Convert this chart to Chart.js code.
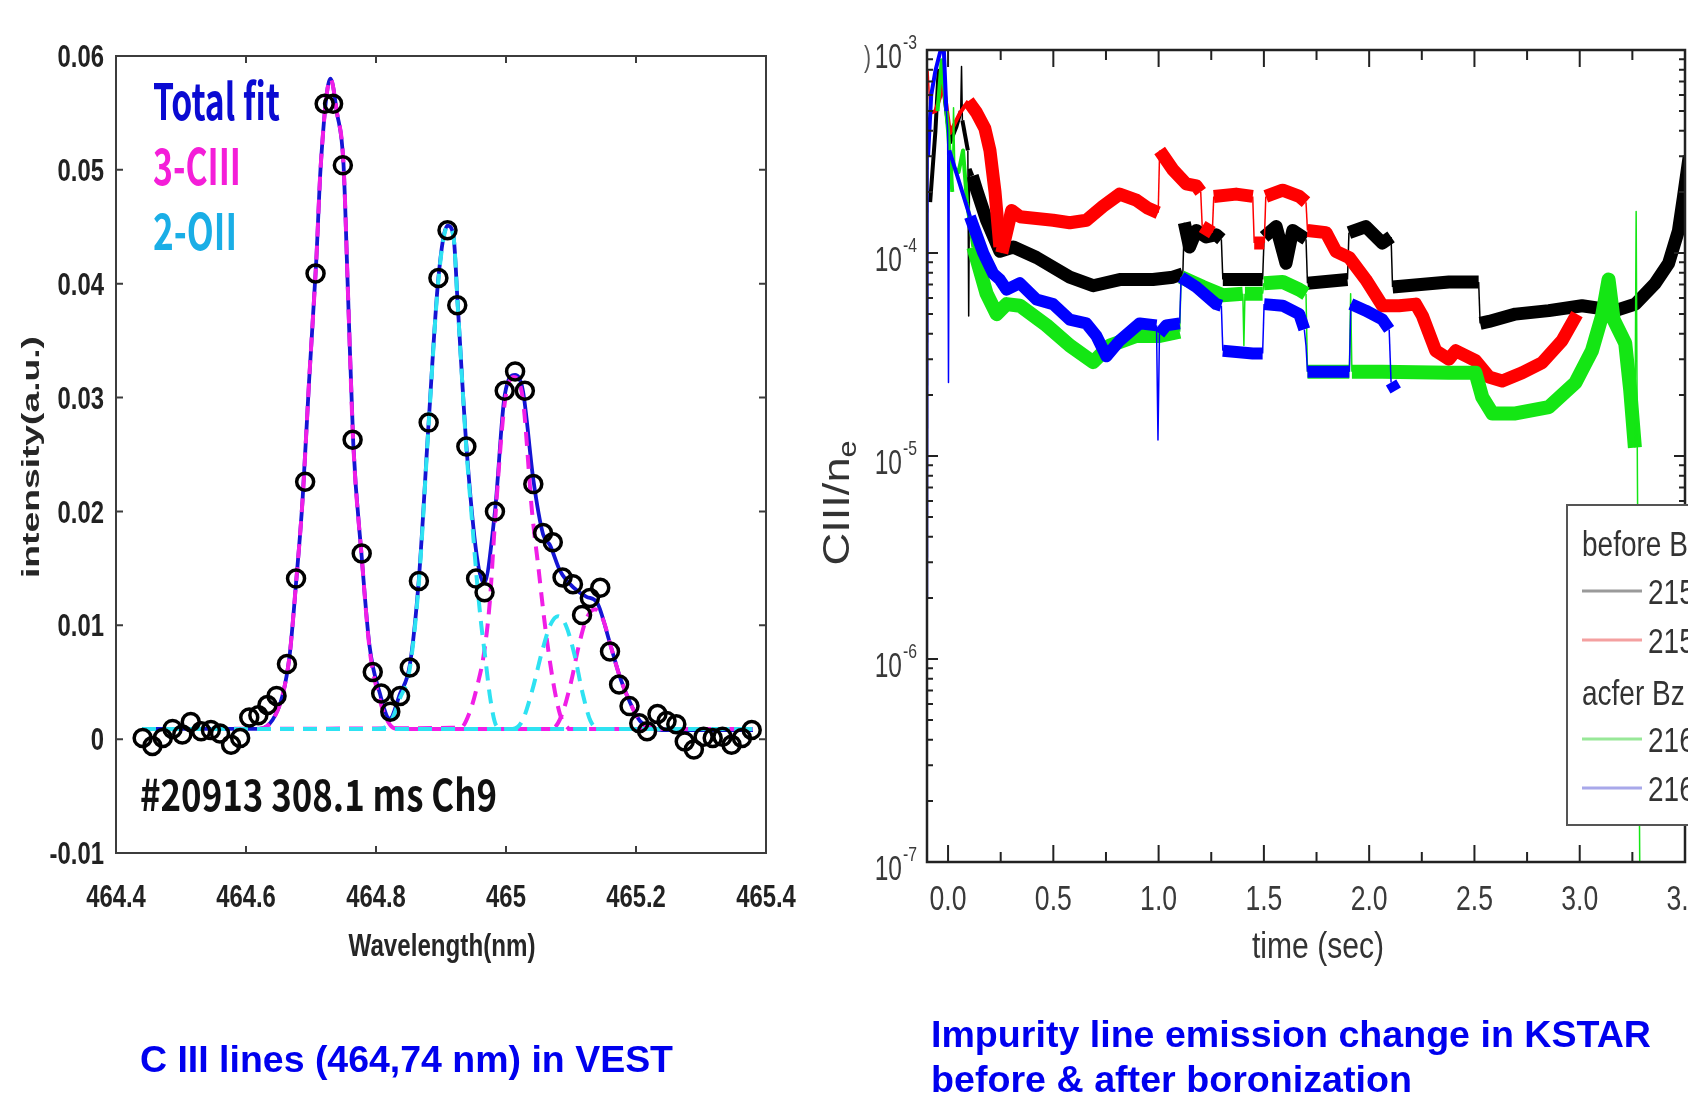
<!DOCTYPE html>
<html><head><meta charset="utf-8">
<script src="https://cdn.jsdelivr.net/npm/chart.js@4.4.1/dist/chart.umd.min.js"></script>
<style>
html,body{margin:0;padding:0;background:#fff;width:1688px;height:1106px;overflow:hidden;}
canvas{position:absolute;top:0;}
#c1{left:0;}
#c2{left:820px;}
</style></head><body>
<canvas id="c1" width="820" height="1106"></canvas>
<canvas id="c2" width="868" height="1106"></canvas>
<script>
// ---------- LEFT PANEL DATA (wavelength nm, intensity a.u.) ----------
const measured = [[464.441,0.0001],[464.456,-0.0006],[464.472,0.0001],[464.487,0.0009],[464.502,0.0004],[464.515,0.0015],[464.531,0.0007],[464.546,0.0008],[464.560,0.0005],[464.577,-0.0005],[464.591,0.0001],[464.605,0.0019],[464.619,0.0021],[464.633,0.0030],[464.647,0.0038],[464.663,0.0066],[464.677,0.0141],[464.691,0.0226],[464.707,0.0409],[464.721,0.0558],[464.734,0.0558],[464.749,0.0504],[464.764,0.0263],[464.778,0.0163],[464.795,0.0059],[464.808,0.0040],[464.822,0.0024],[464.837,0.0038],[464.852,0.0063],[464.866,0.0139],[464.881,0.0278],[464.896,0.0405],[464.910,0.0447],[464.925,0.0381],[464.939,0.0257],[464.954,0.0141],[464.967,0.0129],[464.983,0.0200],[464.998,0.0306],[465.014,0.0323],[465.029,0.0306],[465.042,0.0224],[465.057,0.0181],[465.072,0.0173],[465.087,0.0142],[465.103,0.0136],[465.117,0.0109],[465.129,0.0124],[465.145,0.0133],[465.160,0.0077],[465.174,0.0048],[465.190,0.0029],[465.205,0.0014],[465.217,0.0007],[465.233,0.0022],[465.247,0.0016],[465.262,0.0013],[465.275,-0.0002],[465.289,-0.0009],[465.304,0.0002],[465.318,0.0001],[465.333,0.0002],[465.347,-0.0005],[465.363,0.0001],[465.378,0.0008]];
const totalFit = [[464.44,0.0009],[464.62,0.0009],[464.641,0.0017],[464.656,0.0038],[464.667,0.0073],[464.677,0.0137],[464.687,0.0210],[464.697,0.0314],[464.708,0.0419],[464.715,0.0504],[464.730,0.0580],[464.740,0.0550],[464.750,0.0505],[464.757,0.0390],[464.765,0.0260],[464.778,0.0160],[464.790,0.0082],[464.806,0.0040],[464.821,0.0018],[464.837,0.0040],[464.852,0.0065],[464.866,0.0141],[464.881,0.0278],[464.896,0.0405],[464.910,0.0451],[464.919,0.0443],[464.926,0.0379],[464.939,0.0258],[464.955,0.0161],[464.966,0.0137],[464.983,0.0200],[464.998,0.0302],[465.014,0.0320],[465.026,0.0306],[465.042,0.0228],[465.057,0.0180],[465.068,0.0170],[465.083,0.0148],[465.104,0.0133],[465.124,0.0125],[465.140,0.0120],[465.160,0.0084],[465.175,0.0055],[465.191,0.0032],[465.206,0.0016],[465.222,0.0010],[465.24,0.0008],[465.38,0.0008]];
const cIII_1 = [[464.44,0.0009],[464.62,0.0009],[464.641,0.0017],[464.656,0.0038],[464.667,0.0073],[464.677,0.0137],[464.687,0.0210],[464.697,0.0314],[464.708,0.0419],[464.715,0.0504],[464.730,0.0580],[464.740,0.0550],[464.750,0.0505],[464.757,0.0390],[464.765,0.0260],[464.778,0.0160],[464.790,0.0080],[464.806,0.0034],[464.821,0.0013],[464.835,0.0009],[465.38,0.0009]];
const cIII_2 = [[464.44,0.0009],[464.93,0.0010],[464.945,0.0025],[464.955,0.0045],[464.966,0.0075],[464.975,0.0120],[464.983,0.0190],[464.998,0.0295],[465.012,0.0318],[465.026,0.0298],[465.040,0.0200],[465.050,0.0150],[465.060,0.0100],[465.072,0.0052],[465.083,0.0022],[465.095,0.0010],[465.10,0.0009],[465.38,0.0009]];
const cIII_3 = [[464.44,0.0009],[465.07,0.0009],[465.085,0.0020],[465.100,0.0050],[465.112,0.0082],[465.124,0.0106],[465.137,0.0114],[465.150,0.0104],[465.160,0.0084],[465.175,0.0055],[465.191,0.0032],[465.206,0.0016],[465.222,0.0010],[465.24,0.0009],[465.38,0.0009]];
const oII_1 = [[464.44,0.0009],[464.80,0.0009],[464.820,0.0013],[464.837,0.0036],[464.852,0.0062],[464.866,0.0138],[464.881,0.0276],[464.896,0.0403],[464.910,0.0450],[464.919,0.0442],[464.926,0.0378],[464.939,0.0255],[464.948,0.0190],[464.955,0.0141],[464.962,0.0100],[464.967,0.0077],[464.976,0.0035],[464.985,0.0012],[464.995,0.0009],[465.38,0.0009]];
const oII_2 = [[464.44,0.0009],[465.01,0.0009],[465.025,0.0016],[465.040,0.0042],[465.055,0.0076],[465.068,0.0100],[465.080,0.0108],[465.092,0.0100],[465.105,0.0075],[465.118,0.0040],[465.130,0.0016],[465.145,0.0009],[465.38,0.0009]];
const leftXTicks = [464.4,464.6,464.8,465.0,465.2,465.4];
const leftXTickLabels = ['464.4','464.6','464.8','465','465.2','465.4'];
const leftYTicks = [-0.01,0,0.01,0.02,0.03,0.04,0.05,0.06];
const leftYTickLabels = ['-0.01','0','0.01','0.02','0.03','0.04','0.05','0.06'];
const leftLegend = ['Total fit','3-CIII','2-OII'];

// ---------- RIGHT PANEL DATA (time s, CIII/ne) ----------
const blackSeries = [[-0.085,1.78e-4],[-0.06,4.0e-4],[-0.045,7.9e-4],[-0.02,6.3e-4],[0.01,3.5e-4],[0.04,4.2e-4],[0.06,5.0e-4],[0.064,8.3e-4],[0.068,4.5e-4],[0.094,3.2e-4],[0.098,4.9e-5],[0.102,2.6e-4],[0.115,2.4e-4],[0.136,2.04e-4],[0.183,1.45e-4],[0.246,1.02e-4],[0.31,1.07e-4],[0.42,9.5e-5],[0.578,7.6e-5],[0.689,6.9e-5],[0.815,7.4e-5],[0.973,7.4e-5],[1.068,7.6e-5],[1.115,7.9e-5],[1.122,1.41e-4],[1.147,1.07e-4],[1.179,1.29e-4],[1.226,1.2e-4],[1.273,1.23e-4],[1.298,1.17e-4],[1.305,7.4e-5],[1.494,7.4e-5],[1.501,1.2e-4],[1.558,1.35e-4],[1.605,8.9e-5],[1.637,1.29e-4],[1.70,1.17e-4],[1.707,7.1e-5],[1.897,7.4e-5],[1.904,1.26e-4],[1.984,1.35e-4],[2.063,1.12e-4],[2.104,1.2e-4],[2.111,6.8e-5],[2.379,7.2e-5],[2.52,7.2e-5],[2.527,4.5e-5],[2.569,4.6e-5],[2.695,5.0e-5],[2.853,5.2e-5],[3.011,5.5e-5],[3.169,5.2e-5],[3.264,5.6e-5],[3.359,7.1e-5],[3.422,8.9e-5],[3.469,1.29e-4],[3.493,1.9e-4],[3.52,3.0e-4]];
const redSeries = [[-0.095,7.9e-4],[-0.085,4.9e-4],[-0.06,5.0e-4],[-0.035,6.0e-4],[-0.022,6.9e-4],[0.009,3.9e-4],[0.057,4.9e-4],[0.096,5.6e-4],[0.136,4.9e-4],[0.175,4.1e-4],[0.199,3.2e-4],[0.223,2.0e-4],[0.246,1.07e-4],[0.255,1.0e-4],[0.302,1.62e-4],[0.341,1.51e-4],[0.42,1.48e-4],[0.499,1.45e-4],[0.578,1.41e-4],[0.657,1.45e-4],[0.736,1.70e-4],[0.815,1.95e-4],[0.894,1.82e-4],[0.95,1.66e-4],[0.998,1.58e-4],[1.005,3.2e-4],[1.068,2.57e-4],[1.131,2.19e-4],[1.179,2.14e-4],[1.20,2.0e-4],[1.207,1.35e-4],[1.255,1.26e-4],[1.262,1.9e-4],[1.368,1.95e-4],[1.447,1.9e-4],[1.454,1.12e-4],[1.502,1.12e-4],[1.509,1.9e-4],[1.589,2.04e-4],[1.668,1.9e-4],[1.70,1.78e-4],[1.707,1.29e-4],[1.795,1.26e-4],[1.842,1.02e-4],[1.905,9.5e-5],[1.984,7.4e-5],[2.063,5.5e-5],[2.142,5.5e-5],[2.221,5.6e-5],[2.253,4.9e-5],[2.316,3.3e-5],[2.379,3.0e-5],[2.411,3.3e-5],[2.505,2.95e-5],[2.569,2.45e-5],[2.632,2.34e-5],[2.727,2.57e-5],[2.821,2.88e-5],[2.916,3.7e-5],[2.987,5.0e-5]];
const greenSeries = [[-0.05,5.0e-4],[-0.03,8.9e-4],[0.0,4.0e-4],[0.02,2.0e-4],[0.026,5.2e-4],[0.032,2.6e-4],[0.05,2.5e-4],[0.071,3.2e-4],[0.09,1.78e-4],[0.12,1.07e-4],[0.183,6.3e-5],[0.231,5.0e-5],[0.278,5.6e-5],[0.341,5.5e-5],[0.468,4.4e-5],[0.578,3.5e-5],[0.689,2.9e-5],[0.768,3.5e-5],[0.894,3.9e-5],[1.005,3.9e-5],[1.10,4.1e-5],[1.107,7.6e-5],[1.21,6.8e-5],[1.305,6.2e-5],[1.40,6.3e-5],[1.405,3.5e-5],[1.41,6.3e-5],[1.494,6.3e-5],[1.50,7.1e-5],[1.589,7.2e-5],[1.668,6.6e-5],[1.70,6.3e-5],[1.707,2.6e-5],[1.906,2.6e-5],[1.912,6.3e-5],[1.918,2.6e-5],[2.063,2.6e-5],[2.379,2.57e-5],[2.505,2.57e-5],[2.537,1.95e-5],[2.585,1.62e-5],[2.695,1.62e-5],[2.853,1.74e-5],[2.98,2.3e-5],[3.058,3.3e-5],[3.106,4.9e-5],[3.137,7.4e-5],[3.161,4.7e-5],[3.216,3.6e-5],[3.24,2.1e-5],[3.262,1.1e-5],[3.268,1.6e-4],[3.274,8e-6],[3.285,1e-7]];
const blueSeries = [[-0.098,2.0e-6],[-0.095,3.0e-4],[-0.08,6.0e-4],[-0.06,7.9e-4],[-0.035,1.0e-3],[-0.02,1.0e-3],[-0.008,5.0e-4],[-0.002,4.0e-4],[0.002,2.3e-5],[0.006,3.2e-4],[0.041,2.45e-4],[0.104,1.51e-4],[0.167,1.0e-4],[0.215,7.9e-5],[0.246,7.4e-5],[0.278,6.6e-5],[0.341,7.1e-5],[0.42,5.9e-5],[0.499,5.6e-5],[0.578,4.7e-5],[0.657,4.5e-5],[0.705,3.9e-5],[0.752,3.1e-5],[0.815,3.7e-5],[0.91,4.5e-5],[0.99,4.4e-5],[0.997,1.2e-5],[1.004,4.0e-5],[1.036,4.4e-5],[1.10,4.5e-5],[1.107,7.6e-5],[1.179,6.8e-5],[1.273,5.6e-5],[1.298,5.5e-5],[1.305,3.3e-5],[1.447,3.2e-5],[1.494,3.2e-5],[1.501,5.6e-5],[1.589,5.5e-5],[1.668,5.0e-5],[1.692,4.2e-5],[1.70,3.5e-5],[1.707,2.6e-5],[1.906,2.6e-5],[1.913,5.6e-5],[1.984,5.2e-5],[2.063,4.7e-5],[2.095,4.2e-5],[2.104,2.3e-5],[2.126,2.1e-5]];
const rightXTicks = [0,0.5,1.0,1.5,2.0,2.5,3.0,3.5];
const rightXTickLabels = ['0.0','0.5','1.0','1.5','2.0','2.5','3.0','3.5'];
const rightYTicks = [1e-7,1e-6,1e-5,1e-4,1e-3];
const rightYTickExp = ['-7','-6','-5','-4','-3'];
const legendHeads = ['before Bz','acfer Bz'];
const legendShots = ['215','215','216','216'];

// ---------- helpers ----------
const SANS = '"Liberation Sans", Arial, sans-serif';
const KR = '"Noto Sans CJK KR", "Noto Sans", sans-serif';
function T(ctx, s, x, y, o) {
  ctx.save();
  const size = o.h ? o.h / 0.716 : o.size;
  ctx.font = (o.weight || 'normal') + ' ' + size.toFixed(2) + 'px ' + (o.family || SANS);
  let sx = o.sx || 1;
  if (o.w) sx = o.w / ctx.measureText(s).width;
  ctx.translate(x, y);
  if (o.rot) ctx.rotate(o.rot);
  ctx.scale(sx, o.sy || 1);
  ctx.textAlign = o.align || 'left';
  ctx.textBaseline = 'alphabetic';
  ctx.fillStyle = o.color || '#000';
  ctx.fillText(s, 0, 0.358 * size);
  ctx.restore();
}
const toXY = a => a.map(p => ({x: p[0], y: p[1]}));

// ---------- LEFT CHART ----------
const leftDeco = {
  id: 'leftDeco',
  afterDraw(chart) {
    const ctx = chart.ctx, a = chart.chartArea, xs = chart.scales.x, ys = chart.scales.y;
    ctx.save();
    ctx.strokeStyle = '#3c3c3c'; ctx.lineWidth = 2;
    ctx.strokeRect(a.left, a.top, a.right - a.left, a.bottom - a.top);
    ctx.beginPath();
    leftXTicks.forEach(v => { const x = xs.getPixelForValue(v);
      ctx.moveTo(x, a.bottom); ctx.lineTo(x, a.bottom - 7); ctx.moveTo(x, a.top); ctx.lineTo(x, a.top + 7); });
    leftYTicks.forEach(v => { const y = ys.getPixelForValue(v);
      ctx.moveTo(a.left, y); ctx.lineTo(a.left + 7, y); ctx.moveTo(a.right, y); ctx.lineTo(a.right - 7, y); });
    ctx.stroke();
    ctx.restore();
    const tk = {weight: 'bold', size: 31, sx: 0.77, color: '#222'};
    leftYTicks.forEach((v, i) => T(ctx, leftYTickLabels[i], a.left - 12, ys.getPixelForValue(v), Object.assign({align: 'right'}, tk)));
    leftXTicks.forEach((v, i) => T(ctx, leftXTickLabels[i], xs.getPixelForValue(v), a.bottom + 43, Object.assign({align: 'center'}, tk)));
    T(ctx, 'Wavelength(nm)', 442, a.bottom + 92, {weight: 'bold', h: 22, w: 187, align: 'center', color: '#262626'});
    T(ctx, 'intensity(a.u.)', 31, 457, {weight: 'bold', h: 16.5, w: 242, align: 'center', rot: -Math.PI / 2, color: '#262626'});
    T(ctx, leftLegend[0], 153, 102, {weight: 'bold', family: KR, h: 36, w: 127, color: '#0a0ad2'});
    T(ctx, leftLegend[1], 153, 167, {weight: 'bold', family: KR, h: 36, w: 88, color: '#f41ed8'});
    T(ctx, leftLegend[2], 153, 232, {weight: 'bold', family: KR, h: 36, w: 84, color: '#1aaee6'});
    T(ctx, '#20913 308.1 ms Ch9', 140, 795, {weight: 'bold', family: KR, h: 31, w: 357, color: '#111'});
    T(ctx, 'C III lines (464,74 nm) in VEST', 140, 1058, {weight: 'bold', h: 27, w: 533, color: '#0000ee'});
  }
};
const dash = [14, 9];
const comp = (d, c) => ({data: toXY(d), borderColor: c, borderWidth: 4, borderDash: dash, pointRadius: 0, cubicInterpolationMode: 'monotone', fill: false});
new Chart(document.getElementById('c1'), {
  type: 'line',
  data: {datasets: [
    {data: toXY(measured), showLine: false, pointRadius: 8.5, pointBorderWidth: 3.5, pointBorderColor: '#000', pointBackgroundColor: 'rgba(0,0,0,0)', borderColor: '#000'},
    comp(oII_1, '#2ee2f2'), comp(oII_2, '#2ee2f2'),
    comp(cIII_1, '#f01ee6'), comp(cIII_2, '#f01ee6'), comp(cIII_3, '#f01ee6'),
    {data: toXY(totalFit), borderColor: '#1414d4', borderWidth: 3.8, pointRadius: 0, cubicInterpolationMode: 'monotone', fill: false}
  ]},
  options: {
    animation: false, responsive: false, devicePixelRatio: 1, events: [],
    plugins: {legend: {display: false}, tooltip: {enabled: false}},
    layout: {padding: {top: 56, right: 54, left: 0, bottom: 0}},
    scales: {
      x: {type: 'linear', min: 464.4, max: 465.4, ticks: {display: false}, grid: {display: false}, border: {display: false}, afterFit: s => { s.height = 253; }},
      y: {type: 'linear', min: -0.01, max: 0.06, ticks: {display: false}, grid: {display: false}, border: {display: false}, afterFit: s => { s.width = 116; }}
    }
  },
  plugins: [leftDeco]
});

// ---------- RIGHT CHART ----------
const rightDeco = {
  id: 'rightDeco',
  afterDraw(chart) {
    const ctx = chart.ctx, a = chart.chartArea, xs = chart.scales.x, ys = chart.scales.y;
    ctx.save();
    ctx.strokeStyle = '#222'; ctx.lineWidth = 2.5;
    ctx.strokeRect(a.left, a.top, a.right - a.left, a.bottom - a.top);
    ctx.lineWidth = 2;
    ctx.beginPath();
    rightXTicks.forEach(v => { const x = xs.getPixelForValue(v);
      ctx.moveTo(x, a.bottom); ctx.lineTo(x, a.bottom - 17); ctx.moveTo(x, a.top); ctx.lineTo(x, a.top + 17);
      const xm = xs.getPixelForValue(v + 0.25);
      if (v + 0.25 < 3.5) { ctx.moveTo(xm, a.bottom); ctx.lineTo(xm, a.bottom - 10); ctx.moveTo(xm, a.top); ctx.lineTo(xm, a.top + 10); }
    });
    rightYTicks.forEach((v, i) => { const y = ys.getPixelForValue(v);
      ctx.moveTo(a.left, y); ctx.lineTo(a.left + 11, y); ctx.moveTo(a.right, y); ctx.lineTo(a.right - 11, y);
      if (i < rightYTicks.length - 1) for (let k = 2; k <= 9; k++) { const ym = ys.getPixelForValue(v * k);
        ctx.moveTo(a.left, ym); ctx.lineTo(a.left + 6, ym); ctx.moveTo(a.right, ym); ctx.lineTo(a.right - 6, ym); }
    });
    ctx.stroke();
    // legend box
    ctx.fillStyle = '#fff'; ctx.fillRect(747, 505, 140, 320);
    ctx.strokeStyle = '#555'; ctx.lineWidth = 2; ctx.strokeRect(747, 505, 140, 320);
    const lc = ['#9a9a9a', '#f4a0a0', '#98e898', '#a8a8ea'];
    const ly = [591, 640, 739, 788];
    ctx.lineWidth = 3;
    ly.forEach((y, i) => { ctx.strokeStyle = lc[i]; ctx.beginPath(); ctx.moveTo(762, y); ctx.lineTo(822, y); ctx.stroke(); });
    ctx.restore();
    const lg = {size: 35, sx: 0.8, color: '#333'};
    T(ctx, legendHeads[0], 762, 543, lg);
    T(ctx, legendHeads[1], 762, 692, lg);
    ly.forEach((y, i) => T(ctx, legendShots[i], 828, y, lg));
    // tick labels
    const tk = {size: 35, sx: 0.76, color: '#3a3a3a'};
    rightXTicks.forEach((v, i) => T(ctx, rightXTickLabels[i], xs.getPixelForValue(v), a.bottom + 35, Object.assign({align: 'center'}, tk)));
    rightYTicks.forEach((v, i) => { const y = ys.getPixelForValue(v);
      T(ctx, '10', a.left - 25, y + 5, {size: 35, sx: 0.7, color: '#3a3a3a', align: 'right'});
      T(ctx, rightYTickExp[i], a.left - 24, y - 9, {size: 21, sx: 0.75, color: '#3a3a3a'});
    });
    T(ctx, ')', 44, 56, {size: 30, sx: 0.7, color: '#555'});
    T(ctx, 'time (sec)', 498, a.bottom + 83, {size: 36, w: 132, color: '#333', align: 'center'});
    // rotated y title CIII/n_e
    ctx.save();
    ctx.translate(16, 503); ctx.rotate(-Math.PI / 2);
    ctx.font = 'normal 37px ' + SANS;
    const m1 = ctx.measureText('CIII/n').width;
    ctx.font = 'normal 25px ' + SANS;
    const m2 = ctx.measureText('e').width;
    const sx = 125 / (m1 + m2);
    ctx.scale(sx, 1);
    ctx.fillStyle = '#333'; ctx.textBaseline = 'alphabetic'; ctx.textAlign = 'left';
    ctx.font = 'normal 37px ' + SANS;
    ctx.fillText('CIII/n', -(m1 + m2) / 2, 13);
    ctx.font = 'normal 25px ' + SANS;
    ctx.fillText('e', -(m1 + m2) / 2 + m1, 20);
    ctx.restore();
    T(ctx, 'Impurity line emission change in KSTAR', 111, 1033, {weight: 'bold', h: 27, w: 720, color: '#0000ee'});
    T(ctx, 'before & after boronization', 111, 1078, {weight: 'bold', h: 27, w: 481, color: '#0000ee'});
  }
};
function segW(series, w) {
  return c => {
    const t0 = series[c.p0DataIndex][0], t1 = series[c.p1DataIndex][0];
    if (t1 - t0 < 0.012) return 1.5;
    if (t1 < 0.13) return 4;
    return w;
  };
}
const rightDefs = [
  {d: blueSeries, c: '#0000ff', w: 12},
  {d: greenSeries, c: '#14e614', w: 14},
  {d: redSeries, c: '#ff0000', w: 13},
  {d: blackSeries, c: '#000000', w: 13}
];
new Chart(document.getElementById('c2'), {
  type: 'line',
  data: {datasets: rightDefs.map(r => ({data: toXY(r.d), borderColor: r.c, borderWidth: r.w, pointRadius: 0, borderJoinStyle: 'round', fill: false, clip: 0, segment: {borderWidth: segW(r.d, r.w)}}))},
  options: {
    animation: false, responsive: false, devicePixelRatio: 1, events: [],
    plugins: {legend: {display: false}, tooltip: {enabled: false}},
    layout: {padding: {top: 50, right: 3, left: 0, bottom: 0}},
    scales: {
      x: {type: 'linear', min: -0.1, max: 3.5, ticks: {display: false}, grid: {display: false}, border: {display: false}, afterFit: s => { s.height = 244; }},
      y: {type: 'logarithmic', min: 1e-7, max: 1e-3, ticks: {display: false}, grid: {display: false}, border: {display: false}, afterFit: s => { s.width = 107; }}
    }
  },
  plugins: [rightDeco]
});
</script></body></html>
